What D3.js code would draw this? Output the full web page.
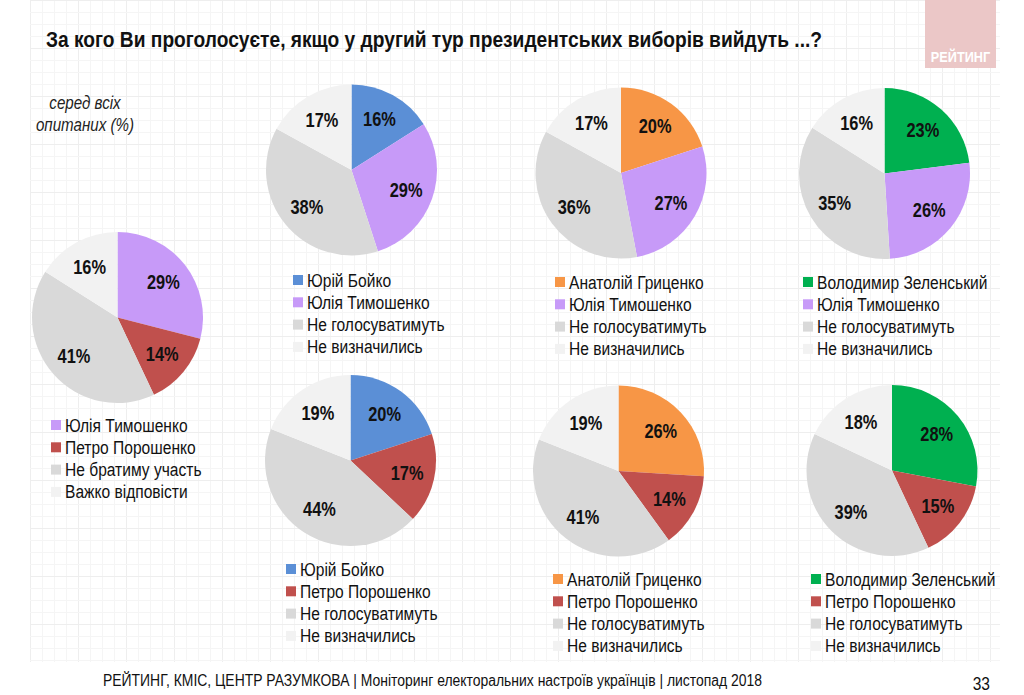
<!DOCTYPE html>
<html>
<head>
<meta charset="utf-8">
<script src="https://cdn.jsdelivr.net/npm/d3@7"></script>
<style>
html,body{margin:0;padding:0;background:#fff;}
svg{display:block;}
text{font-family:"Liberation Sans","Arial",sans-serif;}
</style>
</head>
<body>
<svg id="chart" width="1024" height="695"></svg>
<script>
// ---------- DATA ----------
const title = "За кого Ви проголосуєте, якщо у другий тур президентських виборів вийдуть ...?";
const subtitle = ["серед всіх", "опитаних (%)"];
const footer = "РЕЙТИНГ, КМІС, ЦЕНТР РАЗУМКОВА |  Моніторинг електоральних настроїв українців | листопад 2018";
const pageNumber = "33";
const logoText = "РЕЙТИНГ";

const cats0 = ["Юлія Тимошенко", "Петро Порошенко", "Не братиму участь", "Важко відповісти"];
const vals0 = [29, 14, 41, 16];

const cats1 = ["Юрій Бойко", "Юлія Тимошенко", "Не голосуватимуть", "Не визначились"];
const vals1 = [16, 29, 38, 17];

const cats2 = ["Анатолій Гриценко", "Юлія Тимошенко", "Не голосуватимуть", "Не визначились"];
const vals2 = [20, 27, 36, 17];

const cats3 = ["Володимир Зеленський", "Юлія Тимошенко", "Не голосуватимуть", "Не визначились"];
const vals3 = [23, 26, 35, 16];

const cats4 = ["Юрій Бойко", "Петро Порошенко", "Не голосуватимуть", "Не визначились"];
const vals4 = [20, 17, 44, 19];

const cats5 = ["Анатолій Гриценко", "Петро Порошенко", "Не голосуватимуть", "Не визначились"];
const vals5 = [26, 14, 41, 19];

const cats6 = ["Володимир Зеленський", "Петро Порошенко", "Не голосуватимуть", "Не визначились"];
const vals6 = [28, 15, 39, 18];

// ---------- STYLE / LAYOUT ----------
const colorOf = {
  "Юлія Тимошенко": "#c79af8",
  "Петро Порошенко": "#c0504d",
  "Юрій Бойко": "#5b8fd6",
  "Анатолій Гриценко": "#f79646",
  "Володимир Зеленський": "#00b050",
  "Не братиму участь": "#d9d9d9",
  "Не голосуватимуть": "#d9d9d9",
  "Важко відповісти": "#f2f2f2",
  "Не визначились": "#f2f2f2"
};

const pies = [
  {cats: cats0, vals: vals0, cx: 117.5, cy: 317.5, lx: 51,  ly: 425},
  {cats: cats1, vals: vals1, cx: 351.5, cy: 170,   lx: 293, ly: 280},
  {cats: cats2, vals: vals2, cx: 621,   cy: 173,   lx: 555, ly: 282},
  {cats: cats3, vals: vals3, cx: 884.5, cy: 173.5, lx: 803, ly: 282},
  {cats: cats4, vals: vals4, cx: 350.5, cy: 460.5, lx: 286, ly: 569},
  {cats: cats5, vals: vals5, cx: 618.5, cy: 471,   lx: 553, ly: 579},
  {cats: cats6, vals: vals6, cx: 892,   cy: 470.5, lx: 811, ly: 579}
];
const R = 85.5;
const labelR = 58;
const legendStep = 22.3;
const NARROW = 0.82;

const svg = d3.select("#chart");

// narrow-text helper (Arial Narrow look from Liberation Sans)
function ntext(parent, x, y, str) {
  return parent.append("text")
    .attr("transform", `translate(${x},${y}) scale(${NARROW},1)`)
    .text(str);
}

// ---------- background grid ----------
const grid = svg.append("g");
const gx0 = 30, gx1 = 1000, gy0 = 0, gy1 = 662, step = 12;
d3.range(gx0, gx1 + 1, step).forEach((x, i) => {
  grid.append("line").attr("x1", x + 0.5).attr("x2", x + 0.5).attr("y1", gy0).attr("y2", gy1)
    .attr("stroke", i % 4 === 0 ? "#eeeeee" : "#f5f5f5").attr("stroke-width", 1);
});
d3.range(gy0, gy1 + 1, step).forEach((y, i) => {
  grid.append("line").attr("x1", gx0).attr("x2", gx1).attr("y1", y + 0.5).attr("y2", y + 0.5)
    .attr("stroke", i % 4 === 0 ? "#eeeeee" : "#f5f5f5").attr("stroke-width", 1);
});

// ---------- logo ----------
svg.append("rect").attr("x", 925).attr("y", 0).attr("width", 71).attr("height", 68)
  .attr("fill", "#ebc7c7");
ntext(svg, 960.5, 62, logoText)
  .attr("text-anchor", "middle").attr("font-size", 15.5).attr("font-weight", "bold").attr("fill", "#fff");

// ---------- title ----------
ntext(svg, 46, 47, title)
  .attr("font-size", 22.5).attr("font-weight", "bold").attr("fill", "#111")
  .attr("textLength", 776 / NARROW).attr("lengthAdjust", "spacingAndGlyphs");

// ---------- subtitle ----------
subtitle.forEach((s, i) => {
  ntext(svg, 85, 109 + i * 22, s)
    .attr("text-anchor", "middle").attr("font-size", 18.5).attr("font-style", "italic").attr("fill", "#222");
});

// ---------- pies ----------
const pieGen = d3.pie().sort(null).value(d => d.v);
const arc = d3.arc().innerRadius(0).outerRadius(R);
const labelArc = d3.arc().innerRadius(labelR).outerRadius(labelR);

pies.forEach(p => {
  const data = p.cats.map((c, i) => ({c: c, v: p.vals[i]}));
  const g = svg.append("g").attr("transform", `translate(${p.cx},${p.cy})`);
  const arcs = pieGen(data);
  g.selectAll("path").data(arcs).join("path")
    .attr("d", arc).attr("fill", d => colorOf[d.data.c]);
  arcs.forEach(d => {
    const [x, y] = labelArc.centroid(d);
    ntext(g, x, y + 7, d.data.v + "%")
      .attr("text-anchor", "middle")
      .attr("font-size", 20).attr("font-weight", "bold").attr("fill", "#111");
  });

  const lg = svg.append("g").attr("transform", `translate(${p.lx},${p.ly})`);
  p.cats.forEach((c, i) => {
    const y = i * legendStep;
    lg.append("rect").attr("x", 0).attr("y", y - 5).attr("width", 10).attr("height", 10)
      .attr("fill", colorOf[c]);
    ntext(lg, 14, y + 6.5, c).attr("font-size", 19).attr("fill", "#111");
  });
});

// ---------- footer ----------
ntext(svg, 103, 686, footer)
  .attr("font-size", 16).attr("fill", "#111")
  .attr("textLength", 659 / NARROW).attr("lengthAdjust", "spacingAndGlyphs");
ntext(svg, 990, 690, pageNumber)
  .attr("text-anchor", "end").attr("font-size", 19).attr("fill", "#111");
</script>
</body>
</html>
